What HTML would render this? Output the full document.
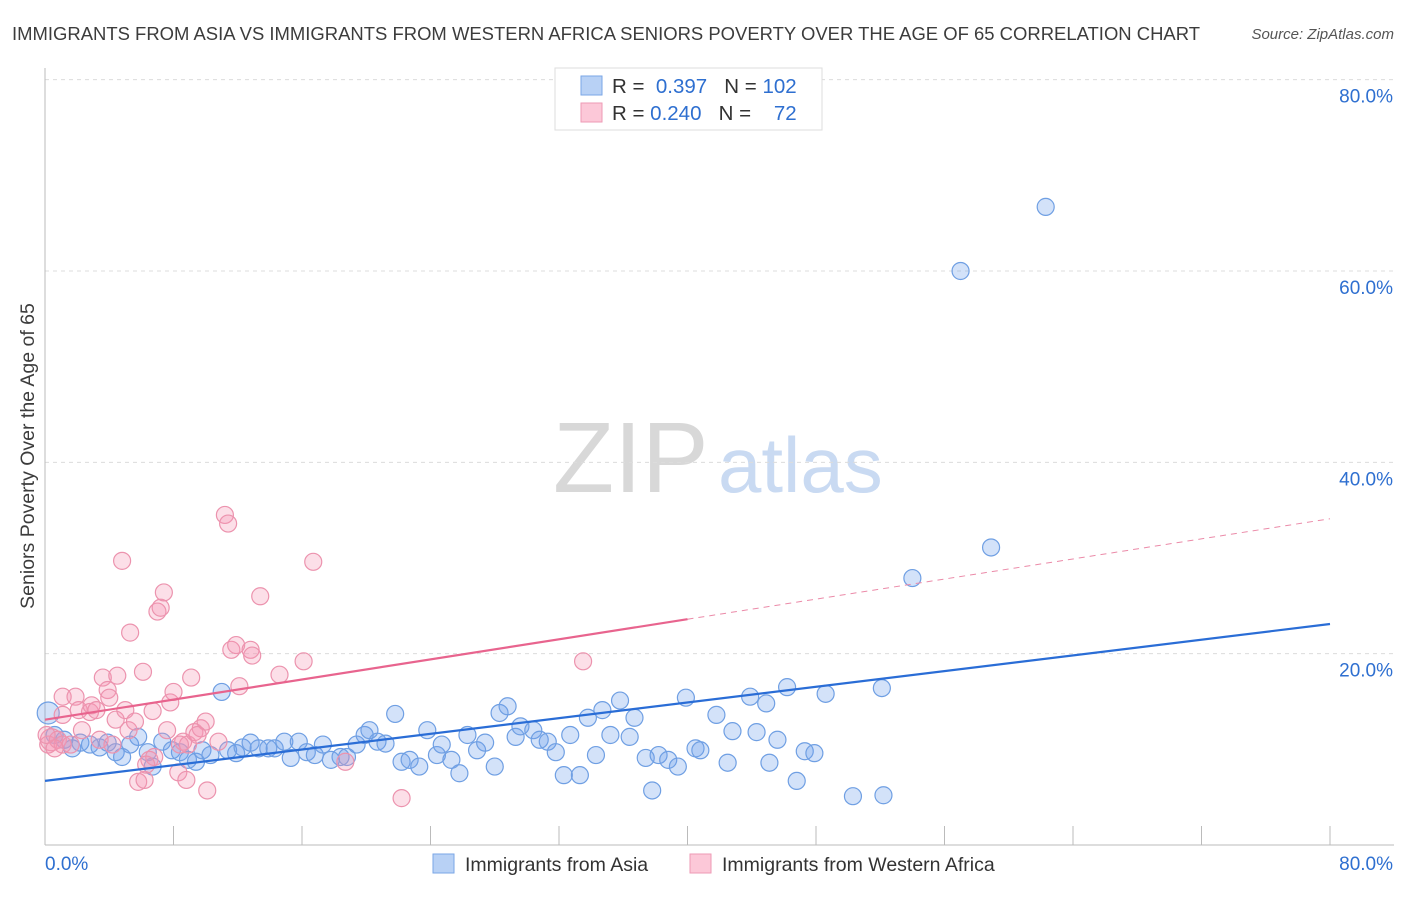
<!DOCTYPE html>
<html><head><meta charset="utf-8"><style>
body{margin:0;background:#fff;font-family:"Liberation Sans",sans-serif}
svg text{font-family:"Liberation Sans",sans-serif}
</style></head><body>
<svg id="c" width="1406" height="892" viewBox="0 0 1406 892" xmlns="http://www.w3.org/2000/svg">
<text x="12" y="40" font-size="18" textLength="1188" lengthAdjust="spacingAndGlyphs" fill="#3c3c3c">IMMIGRANTS FROM ASIA VS IMMIGRANTS FROM WESTERN AFRICA SENIORS POVERTY OVER THE AGE OF 65 CORRELATION CHART</text>
<text x="1394" y="39" font-size="15" fill="#555" font-style="italic" text-anchor="end">Source: ZipAtlas.com</text>
<g>
<text x="553" y="492" font-size="100" fill="#d8d8d8" font-family="Liberation Serif, serif">ZIP</text>
<text x="718" y="492" font-size="78" fill="#c9daf2">atlas</text>
</g>
<g id="grid"></g>
<g id="axes"></g>
<g id="marks"></g>
<text transform="translate(34,456) rotate(-90)" font-size="19.5" fill="#3c3c3c" text-anchor="middle">Seniors Poverty Over the Age of 65</text>
<g>
<rect x="555" y="68" width="267" height="62" fill="#fff" stroke="#ddd"/>
<rect x="581" y="76" width="21" height="19" fill="#b8d1f5" stroke="#7aa6e6"/>
<rect x="581" y="103" width="21" height="19" fill="#fcc8d8" stroke="#ee9ab5"/>
<text x="612" y="93" font-size="20.5" fill="#333">R = <tspan fill="#2e6fd0">&#160;0.397</tspan>&#160;&#160;&#160;N = <tspan fill="#2e6fd0">102</tspan></text>
<text x="612" y="120" font-size="20.5" fill="#333">R = <tspan fill="#2e6fd0">0.240</tspan>&#160;&#160;&#160;N = <tspan fill="#2e6fd0">&#160;&#160;&#160;72</tspan></text>
</g>
<g>
<rect x="433" y="854" width="21" height="19" fill="#b8d1f5" stroke="#7aa6e6"/>
<text x="465" y="871" font-size="19.5" fill="#333">Immigrants from Asia</text>
<rect x="690" y="854" width="21" height="19" fill="#fcc8d8" stroke="#ee9ab5"/>
<text x="722" y="871" font-size="19.5" fill="#333">Immigrants from Western Africa</text>
</g>
</svg>
<script>
const xTicks=[0,8,16,24,32,40,48,56,64,72,80];
const yTicks=[20,40,60,80];
const yTickLabels=["20.0%","40.0%","60.0%","80.0%"];
const xEndLabels=["0.0%","80.0%"];
const asiaX=[0.2,0.6,1.2,1.7,2.2,2.8,3.4,3.9,4.4,4.8,5.3,5.8,6.4,6.7,7.3,7.9,8.4,8.9,9.4,9.8,10.3,11.0,11.4,11.9,12.3,12.8,13.3,13.9,14.3,14.9,15.3,15.8,16.3,16.8,17.3,17.8,18.4,18.8,19.4,19.9,20.2,20.7,21.2,21.8,22.2,22.7,23.3,23.8,24.4,24.7,25.3,25.8,26.3,26.9,27.4,28.0,28.3,28.8,29.3,29.6,30.4,30.8,31.3,31.8,32.3,32.7,33.3,33.8,34.3,34.7,35.2,35.8,36.4,36.7,37.4,37.8,38.2,38.8,39.4,39.9,40.5,40.8,41.8,42.5,42.8,43.9,44.3,44.9,45.1,45.6,46.2,46.8,47.3,47.9,48.6,50.3,52.1,52.2,54.0,57.0,58.9,62.3];
const asiaY=[13.8,11.5,11.0,10.1,10.7,10.5,10.2,10.7,9.7,9.2,10.5,11.3,9.7,8.2,10.8,9.9,9.7,8.9,8.7,9.9,9.4,16.0,9.9,9.6,10.2,10.7,10.1,10.1,10.1,10.8,9.1,10.8,9.7,9.4,10.5,8.9,9.2,9.2,10.5,11.5,12.0,10.8,10.6,13.7,8.7,8.9,8.2,12.0,9.4,10.5,8.9,7.5,11.5,9.9,10.7,8.2,13.8,14.5,11.3,12.4,12.0,11.0,10.8,9.7,7.3,11.5,7.3,13.3,9.4,14.1,11.5,15.1,11.3,13.3,9.1,5.7,9.4,8.9,8.2,15.4,10.1,9.9,13.6,8.6,11.9,15.5,11.8,14.8,8.6,11.0,16.5,6.7,9.8,9.6,15.8,5.1,16.4,5.2,27.9,60.0,31.1,66.7];
const wafX=[0.4,0.2,0.8,1.1,1.1,1.9,2.1,2.3,2.8,2.9,3.2,3.4,3.6,3.9,4.0,4.4,4.5,4.8,5.0,5.2,5.3,5.6,5.8,6.1,6.2,6.5,6.7,7.0,7.2,7.4,7.6,7.8,8.0,8.3,8.6,8.8,8.9,9.1,9.3,9.7,10.0,10.1,10.8,11.2,11.4,11.6,11.9,12.1,12.8,12.9,13.4,14.6,16.1,16.7,18.7,22.2,33.5,1.1,1.6,0.6,0.1,4.2,9.5,6.8,6.3,8.4];
const wafY=[11.0,10.5,11.0,15.5,13.6,15.5,14.1,12.0,13.9,14.6,14.1,11.0,17.5,16.2,15.4,13.1,17.7,29.7,14.1,12.0,22.2,12.9,6.6,18.1,6.8,8.9,14.0,24.4,24.8,26.4,12.0,14.9,16.0,7.6,10.8,6.8,10.5,17.5,11.8,12.2,12.9,5.7,10.8,34.5,33.6,20.4,20.9,16.6,20.4,19.8,26.0,17.8,19.2,29.6,8.7,4.9,19.2,10.5,10.5,10.1,11.5,10.5,11.5,9.2,8.4,10.5];
const asiaFit=[6.7,0.205];
const wafFit=[13.1,0.2625];
const NS="http://www.w3.org/2000/svg";
const X=v=>45+v/80*1285;
const Y=v=>845-v*9.567;
function mk(t,a,p){const e=document.createElementNS(NS,t);for(const k in a)e.setAttribute(k,a[k]);p.appendChild(e);return e;}
const grid=document.getElementById('grid'),axes=document.getElementById('axes'),marks=document.getElementById('marks');
yTicks.forEach((t,i)=>{
 const l=mk('line',{x1:45,x2:1394,y1:Y(t),y2:Y(t),stroke:'#dcdcdc','stroke-dasharray':'4,4'},grid);
 
 
 const tx=mk('text',{x:1393,y:Y(t)+23,'font-size':19,fill:'#2e6fd0','text-anchor':'end'},axes);
 tx.textContent=yTickLabels[i];
 
 
});
let ax=mk('line',{x1:45,x2:45,y1:68,y2:845,stroke:'#bbb'},axes);


ax=mk('line',{x1:45,x2:1394,y1:845,y2:845,stroke:'#bbb'},axes);


xTicks.forEach(t=>{
 const l=mk('line',{x1:X(t),x2:X(t),y1:826,y2:845,stroke:'#bbb'},axes);
 
 
});
let t1=mk('text',{x:45,y:870,'font-size':19,fill:'#2e6fd0'},axes);t1.textContent=xEndLabels[0];


let t2=mk('text',{x:1393,y:870,'font-size':19,fill:'#2e6fd0','text-anchor':'end'},axes);t2.textContent=xEndLabels[1];


asiaX.forEach((v,i)=>{
 const c=mk('circle',{cx:X(v),cy:Y(asiaY[i]),r:i==0?11:8.5,fill:'rgba(110,160,235,0.3)',stroke:'#6f9fe3','stroke-width':1.2},marks);
 
 
});
wafX.forEach((v,i)=>{
 const c=mk('circle',{cx:X(v),cy:Y(wafY[i]),r:i==0?11:8.5,fill:'rgba(245,150,180,0.3)',stroke:'#ec93ae','stroke-width':1.2},marks);
 
 
});
let l=mk('line',{x1:X(0),y1:Y(asiaFit[0]),x2:X(80),y2:Y(asiaFit[0]+asiaFit[1]*80),stroke:'#2a6dd6','stroke-width':2.2},marks);


l=mk('line',{x1:X(0),y1:Y(wafFit[0]),x2:X(40),y2:Y(wafFit[0]+wafFit[1]*40),stroke:'#e8648e','stroke-width':2.2},marks);


l=mk('line',{x1:X(40),y1:Y(wafFit[0]+wafFit[1]*40),x2:X(80),y2:Y(wafFit[0]+wafFit[1]*80),stroke:'#eb8aa8','stroke-width':1,'stroke-dasharray':'6,5'},marks);


</script>
</body></html>
